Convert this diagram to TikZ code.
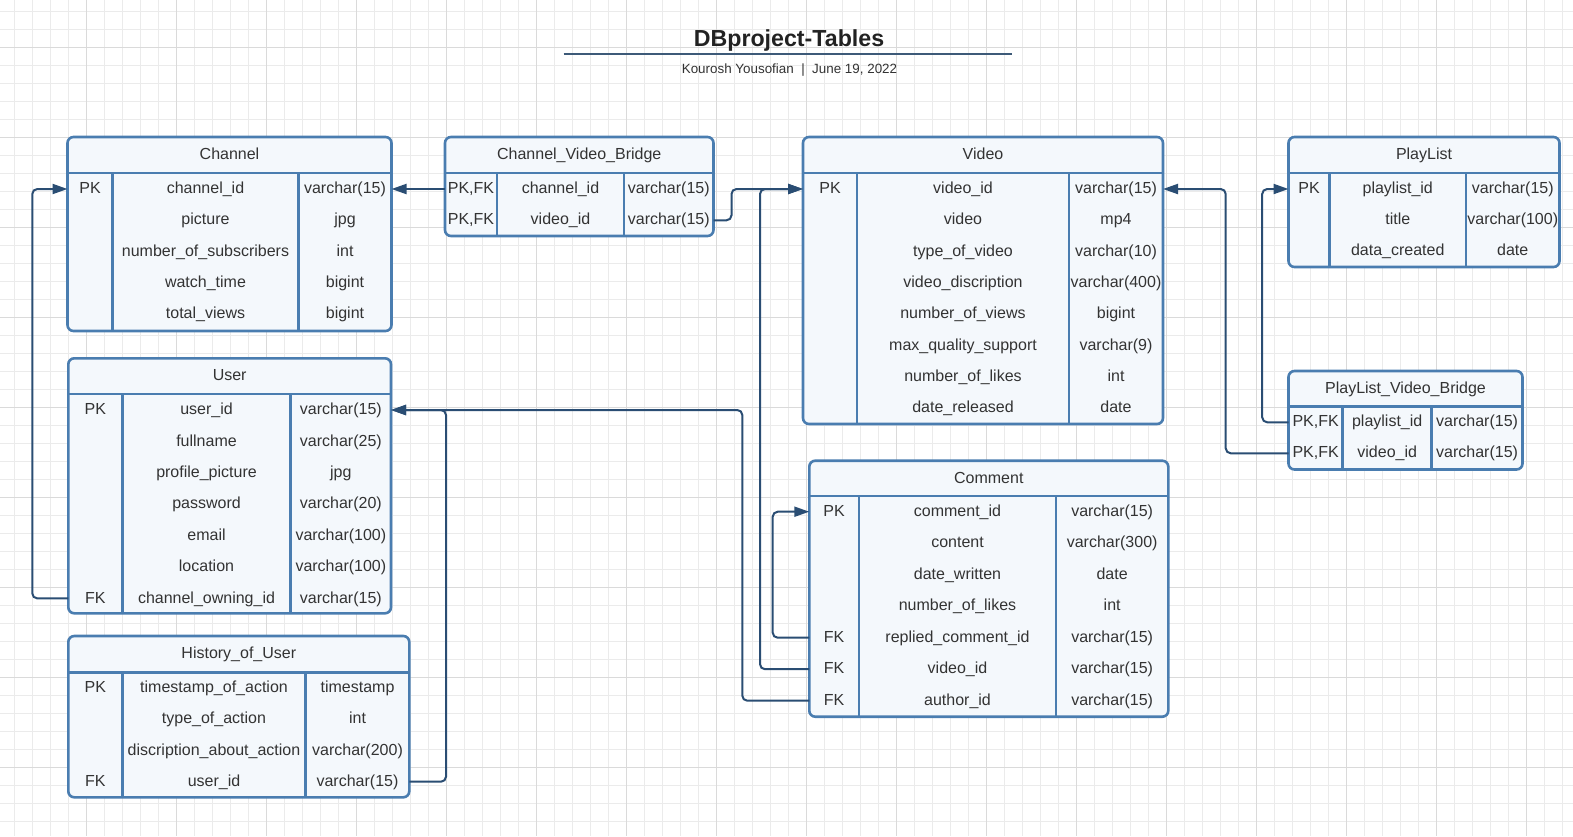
\documentclass[tikz,border=0pt]{standalone}
\usepackage{fontspec}
\setmainfont{Liberation Sans}
\usetikzlibrary{arrows.meta}
\definecolor{tblc}{HTML}{4A7DB0}
\definecolor{tblf}{HTML}{F4F8FC}
\definecolor{linec}{HTML}{2A4D73}
\definecolor{txtc}{HTML}{333333}
\definecolor{gminc}{HTML}{EBEBEB}
\definecolor{gmajc}{HTML}{DADADA}
\definecolor{titlec}{HTML}{222222}
\definecolor{tlinec}{HTML}{3D5A78}
\newcommand\tfont{\fontsize{16}{19}\selectfont}
\newcommand{\ertable}[9]{%
  \node[tbl, minimum width={#4-#2}, minimum height={#5-#3}, anchor=north west] (#1) at (#2,#3) {};
  \draw[sep] (#2,#6) -- (#4,#6);
  \draw[sep] (#7,#6) -- (#7,#5);
  \draw[sep] (#8,#6) -- (#8,#5);
  \node[txt] (#1H) at ({(#2+#4)/2},{(#3+#6)/2}) {#9};
}
\newcommand{\erow}[9]{%
  \node[txt] (#1K#2) at (#4,#3) {#7};
  \node[txt] (#1N#2) at (#5,#3) {#8};
  \node[txt] (#1T#2) at (#6,#3) {#9};
}
\tikzset{
  tbl/.style={draw=tblc, fill=tblf, line width=2.6pt, rounded corners=6pt, inner sep=0pt, outer sep=0pt},
  sep/.style={draw=tblc, line width=2.6pt},
  txt/.style={inner sep=0pt, text=txtc, font=\tfont, text height=12.7pt, text depth=3.4pt},
  conn/.style={draw=linec, line width=2pt, rounded corners=5pt, -{Triangle[length=15pt,width=10pt]}},
  gmin/.style={draw=gminc, line width=1pt},
  gmaj/.style={draw=gmajc, line width=1pt},
}
\begin{document}
\begin{tikzpicture}[x=1pt,y=-1pt]
\useasboundingbox (0,0) rectangle (1573,836);
\fill[white] (0,0) rectangle (1573,836);
% grid
\foreach \x in {14.3,32.3,...,1573} {\draw[gmin] (\x,0) -- (\x,836);}
\foreach \y in {11.7,29.7,...,836} {\draw[gmin] (0,\y) -- (1573,\y);}
\foreach \x in {86.3,176.3,...,1573} {\draw[gmaj] (\x,0) -- (\x,836);}
\foreach \y in {47.3,137.3,...,836} {\draw[gmaj] (0,\y) -- (1573,\y);}
% title
\node[anchor=base, inner sep=0pt, text=titlec, font=\fontsize{23.2}{26}\selectfont\bfseries] (title) at (789,46) {DBproject-Tables};
\draw[tlinec, line width=1.6pt] (563.5,54) -- (1011.5,54);
\node[anchor=base, inner sep=0pt, text=txtc, font=\fontsize{13.4}{16}\selectfont] (subtitle) at (789.5,73) {Kourosh Yousofian\ \ |\ \ June 19, 2022};
% Channel
\ertable{ch}{67.5}{137}{391.5}{331}{173}{112.5}{298.5}{Channel}
\erow{ch}{1}{189}{90}{205.5}{345}{PK}{channel\_id}{varchar(15)}
\erow{ch}{2}{220.25}{90}{205.5}{345}{}{picture}{jpg}
\erow{ch}{3}{251.5}{90}{205.5}{345}{}{number\_of\_subscribers}{int}
\erow{ch}{4}{282.75}{90}{205.5}{345}{}{watch\_time}{bigint}
\erow{ch}{5}{314}{90}{205.5}{345}{}{total\_views}{bigint}
% Channel_Video_Bridge
\ertable{cvb}{445}{137}{713.5}{236}{173}{497}{624}{Channel\_Video\_Bridge}
\erow{cvb}{1}{189}{471}{560.5}{668.75}{PK,FK}{channel\_id}{varchar(15)}
\erow{cvb}{2}{220.3}{471}{560.5}{668.75}{PK,FK}{video\_id}{varchar(15)}
% Video
\ertable{vid}{803}{137}{1163}{424}{173}{857}{1069}{Video}
\erow{vid}{1}{189}{830}{963}{1116}{PK}{video\_id}{varchar(15)}
\erow{vid}{2}{220.33}{830}{963}{1116}{}{video}{mp4}
\erow{vid}{3}{251.67}{830}{963}{1116}{}{type\_of\_video}{varchar(10)}
\erow{vid}{4}{283}{830}{963}{1116}{}{video\_discription}{varchar(400)}
\erow{vid}{5}{314.33}{830}{963}{1116}{}{number\_of\_views}{bigint}
\erow{vid}{6}{345.67}{830}{963}{1116}{}{max\_quality\_support}{varchar(9)}
\erow{vid}{7}{377}{830}{963}{1116}{}{number\_of\_likes}{int}
\erow{vid}{8}{408.33}{830}{963}{1116}{}{date\_released}{date}
% PlayList
\ertable{pl}{1288.5}{137}{1559.5}{267}{173}{1329.5}{1466}{PlayList}
\erow{pl}{1}{189}{1309}{1397.75}{1512.75}{PK}{playlist\_id}{varchar(15)}
\erow{pl}{2}{220}{1309}{1397.75}{1512.75}{}{title}{varchar(100)}
\erow{pl}{3}{251}{1309}{1397.75}{1512.75}{}{data\_created}{date}
% PlayList_Video_Bridge
\ertable{plvb}{1288.5}{371}{1522.5}{469.5}{406.7}{1342.7}{1431.7}{PlayList\_Video\_Bridge}
\erow{plvb}{1}{422.3}{1315.6}{1387.2}{1477.1}{PK,FK}{playlist\_id}{varchar(15)}
\erow{plvb}{2}{453.3}{1315.6}{1387.2}{1477.1}{PK,FK}{video\_id}{varchar(15)}
% User
\ertable{usr}{68.3}{358.3}{391}{613.3}{394}{122.3}{290.7}{User}
\erow{usr}{1}{410}{95.3}{206.5}{340.85}{PK}{user\_id}{varchar(15)}
\erow{usr}{2}{441.4}{95.3}{206.5}{340.85}{}{fullname}{varchar(25)}
\erow{usr}{3}{472.8}{95.3}{206.5}{340.85}{}{profile\_picture}{jpg}
\erow{usr}{4}{504.2}{95.3}{206.5}{340.85}{}{password}{varchar(20)}
\erow{usr}{5}{535.6}{95.3}{206.5}{340.85}{}{email}{varchar(100)}
\erow{usr}{6}{567}{95.3}{206.5}{340.85}{}{location}{varchar(100)}
\erow{usr}{7}{598.4}{95.3}{206.5}{340.85}{FK}{channel\_owning\_id}{varchar(15)}
% History_of_User
\ertable{his}{68.3}{636}{409.3}{797.3}{672.3}{122.3}{305.7}{History\_of\_User}
\erow{his}{1}{687.7}{95.3}{214}{357.5}{PK}{timestamp\_of\_action}{timestamp}
\erow{his}{2}{719.03}{95.3}{214}{357.5}{}{type\_of\_action}{int}
\erow{his}{3}{750.37}{95.3}{214}{357.5}{}{discription\_about\_action}{varchar(200)}
\erow{his}{4}{781.7}{95.3}{214}{357.5}{FK}{user\_id}{varchar(15)}
% Comment
\ertable{com}{809.3}{460.7}{1168.3}{716.7}{496}{859}{1056}{Comment}
\erow{com}{1}{511.7}{834.15}{957.5}{1112.15}{PK}{comment\_id}{varchar(15)}
\erow{com}{2}{543.2}{834.15}{957.5}{1112.15}{}{content}{varchar(300)}
\erow{com}{3}{574.7}{834.15}{957.5}{1112.15}{}{date\_written}{date}
\erow{com}{4}{606.2}{834.15}{957.5}{1112.15}{}{number\_of\_likes}{int}
\erow{com}{5}{637.7}{834.15}{957.5}{1112.15}{FK}{replied\_comment\_id}{varchar(15)}
\erow{com}{6}{669.2}{834.15}{957.5}{1112.15}{FK}{video\_id}{varchar(15)}
\erow{com}{7}{700.7}{834.15}{957.5}{1112.15}{FK}{author\_id}{varchar(15)}
% connectors
\draw[conn] (cvb.west |- cvbN1) -- (ch.east |- chN1);
\draw[conn] (cvb.east |- cvbN2) -- ++(18,0) |- (vid.west |- vidN1);
\draw[conn] (com.west |- comN6) -- ++(-49.3,0) |- (vid.west |- vidN1);
\draw[conn] (com.west |- comN5) -- ++(-36.6,0) |- (com.west |- comN1);
\draw[conn] (com.west |- comN7) -- ++(-67,0) |- (usr.east |- usrN1);
\draw[conn] (his.east |- hisN4) -- ++(36.7,0) |- (usr.east |- usrN1);
\draw[conn] (usr.west |- usrN7) -- ++(-36,0) |- (ch.west |- chN1);
\draw[conn] (plvb.west |- plvbN1) -- ++(-26.3,0) |- (pl.west |- plN1);
\draw[conn] (plvb.west |- plvbN2) -- ++(-62.8,0) |- (vid.east |- vidN1);
\end{tikzpicture}
\end{document}
